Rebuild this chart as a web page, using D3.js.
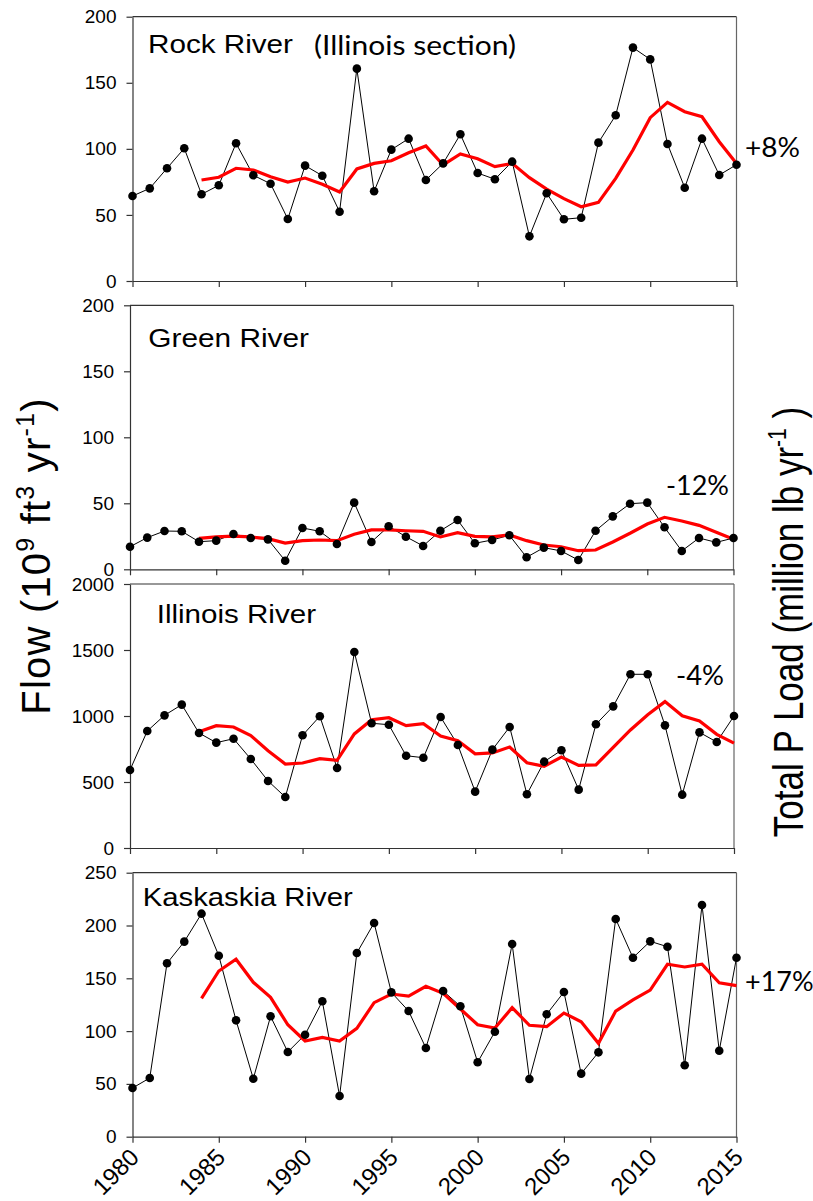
<html>
<head>
<script src="https://d3js.org/d3.v7.min.js"></script>
<style>
body { margin: 0; background: #fff; }
text { font-family: "Liberation Sans", Arial, sans-serif; fill: #000; }
.note { font-family: Lato, "Open Sans", sans-serif; }
</style>
</head>
<body>
<div id="plot"></div>
<script>

var width = 813;
var height = 1201;

// years on the x axis, and the labelled ticks
var years = [1980, 1981, 1982, 1983, 1984, 1985, 1986, 1987, 1988, 1989,
	1990, 1991, 1992, 1993, 1994, 1995, 1996, 1997, 1998, 1999,
	2000, 2001, 2002, 2003, 2004, 2005, 2006, 2007, 2008, 2009,
	2010, 2011, 2012, 2013, 2014, 2015];
var yearTicks = [1980, 1985, 1990, 1995, 2000, 2005, 2010, 2015];

// yearly flow (black dots) and 5-yr load line (red), per river
var rockFlow = [64.3, 70.1, 85.3, 100.4, 65.6, 72.4, 104.2, 80.0, 73.6, 46.9,
	87.3, 79.7, 52.4, 160.7, 67.9, 99.4, 107.7, 76.4, 89.0, 111.0,
	81.7, 77.0, 90.3, 33.8, 66.4, 46.7, 47.9, 104.7, 125.4, 176.6,
	167.7, 103.7, 70.6, 107.7, 80.2, 88.0];
var rockLoad = [null, null, null, null, 76.4, 78.5, 85.3, 84.0, 78.9, 74.9,
	77.9, 73.2, 67.3, 84.8, 89.0, 91.0, 97.1, 102.2, 87.8, 96.1,
	92.5, 86.5, 89.0, 78.2, 69.6, 62.3, 56.2, 59.5, 77.7, 99.1,
	123.6, 135.2, 128.1, 124.3, 105.4, 89.0];

var greenFlow = [17.1, 24.0, 29.0, 28.8, 20.9, 21.7, 26.7, 23.7, 22.7, 6.5,
	31.3, 28.8, 19.2, 50.5, 20.7, 32.6, 24.7, 17.7, 29.2, 37.3,
	19.7, 22.2, 25.8, 9.1, 16.4, 13.9, 7.0, 29.2, 40.1, 49.7,
	50.5, 31.8, 13.9, 23.7, 20.4, 23.7];
var greenLoad = [null, null, null, null, 23.5, 24.5, 25.2, 24.5, 23.2, 19.9,
	21.7, 22.2, 21.7, 26.5, 29.8, 29.8, 29.2, 28.8, 24.5, 27.7,
	25.0, 24.5, 26.0, 21.7, 18.4, 17.1, 14.1, 14.6, 20.7, 27.3,
	34.3, 39.4, 36.6, 33.3, 28.0, 22.7];

var illinoisFlow = [591, 886, 1005, 1086, 871, 798, 828, 674, 508, 386,
	854, 998, 606, 1485, 945, 934, 699, 684, 992, 780,
	427, 745, 917, 407, 654, 740, 442, 937, 1073, 1316,
	1316, 929, 404, 876, 803, 1000];
var illinoisLoad = [null, null, null, null, 881, 927, 917, 851, 737, 636,
	644, 677, 664, 864, 972, 987, 927, 942, 849, 813,
	714, 720, 765, 646, 619, 689, 626, 629, 763, 894,
	1010, 1109, 1002, 962, 861, 795];

var kaskaskiaFlow = [46.1, 55.6, 164.2, 184.7, 211.2, 171.4, 110.2, 54.9, 114.0, 80.2,
	96.6, 128.2, 38.5, 174.0, 202.4, 136.7, 119.0, 84.0, 138.0, 123.5,
	70.5, 99.4, 182.5, 54.6, 115.9, 137.0, 59.7, 79.9, 206.2, 169.5,
	185.0, 179.9, 67.6, 219.4, 81.4, 169.5];
var kaskaskiaLoad = [null, null, null, null, 131.0, 156.9, 168.0, 146.2, 132.0, 106.0,
	90.6, 94.1, 90.6, 102.6, 126.9, 135.1, 133.2, 142.4, 135.8, 120.9,
	106.0, 102.9, 122.2, 105.5, 104.2, 117.1, 108.9, 88.4, 119.0, 129.5,
	138.9, 163.3, 160.7, 163.3, 145.8, 143.0];

var riverNames = ["Rock River", "Green River", "Illinois River", "Kaskaskia River"];
var changeLabels = ["+8%", "-12%", "-4%", "+17%"];
var yMax = [200, 200, 2000, 250];
var yTicks = [
	[0, 50, 100, 150, 200],
	[0, 50, 100, 150, 200],
	[0, 500, 1000, 1500, 2000],
	[0, 50, 100, 150, 200, 250]
];

var flows = [rockFlow, greenFlow, illinoisFlow, kaskaskiaFlow];
var loads = [rockLoad, greenLoad, illinoisLoad, kaskaskiaLoad];

// where each panel sits on the page, and where its labels go
var layout = [
	{ top: 16.7, bottom: 281, left: 132.5, right: 736.5,
		name: [148, 53, 145], change: [745, 157, 55] },
	{ top: 305.3, bottom: 569.3, left: 130, right: 733.5,
		name: [148.3, 346.7, 160.7], change: [666, 494.5, 63] },
	{ top: 584, bottom: 848, left: 130, right: 734,
		name: [156.7, 622.7, 159.3], change: [676, 685, 48] },
	{ top: 872.7, bottom: 1136.7, left: 132.5, right: 736.5,
		name: [142.7, 905.7, 210], change: [745, 990.5, 0] }
];

var svg = d3.select("#plot").append("svg").attr("width", width).attr("height", height);

function drawPanel(i) {
	var box = layout[i];
	var g = svg.append("g");

	var xScale = d3.scaleLinear().domain([1980, 2015]).range([box.left, box.right]);
	var yScale = d3.scaleLinear().domain([0, yMax[i]]).range([box.bottom, box.top]);

	// frame: top and right
	g.append("line")
	.attr("x1", box.left).attr("x2", box.right)
	.attr("y1", box.top).attr("y2", box.top)
	.style("stroke", "#333").style("stroke-width", 1.2);
	g.append("line")
	.attr("x1", box.right).attr("x2", box.right)
	.attr("y1", box.top).attr("y2", box.bottom)
	.style("stroke", "#666").style("stroke-width", 1.2);

	var yAxis = d3.axisLeft(yScale).tickValues(yTicks[i]).tickSize(6).tickPadding(10)
	.tickSizeOuter(0).tickFormat(d3.format("d"));
	var ya = g.append("g").attr("transform", "translate(" + box.left + ",0)").call(yAxis);
	ya.selectAll("text").style("font-size", "19px").style("font-family", "Liberation Sans, Arial, sans-serif");

	var xAxis = d3.axisBottom(xScale).tickValues(yearTicks).tickSize(6).tickSizeOuter(0).tickFormat("");
	var xa = g.append("g").attr("transform", "translate(0," + box.bottom + ")").call(xAxis);

	[ya, xa].forEach(function (a) {
		a.selectAll("path").style("stroke", "#333").style("stroke-width", 1.2);
		a.selectAll("line").style("stroke", "#333").style("stroke-width", 1.2);
	});

	if (i === 3) {
		g.selectAll(".yearLabel").data(yearTicks)
		.enter().append("text")
		.attr("class", "yearLabel")
		.attr("text-anchor", "end")
		.attr("transform", function (d) {
			return "translate(" + (xScale(d) + 8) + "," + (box.bottom + 22) + ") rotate(-45)";
		})
		.style("font-size", "24px")
		.text(function (d) { return d; });
	}

	var pts = years.map(function (y, k) { return { year: y, flow: flows[i][k], load: loads[i][k] }; });

	var flowLine = d3.line()
	.x(function (d) { return xScale(d.year); })
	.y(function (d) { return yScale(d.flow); });

	g.append("path").datum(pts)
	.attr("d", flowLine)
	.style("fill", "none").style("stroke", "#000").style("stroke-width", 1);

	var loadLine = d3.line()
	.defined(function (d) { return d.load !== null; })
	.x(function (d) { return xScale(d.year); })
	.y(function (d) { return yScale(d.load); });

	g.append("path").datum(pts)
	.attr("d", loadLine)
	.style("fill", "none").style("stroke", "#ff0000").style("stroke-width", 3.2)
	.style("stroke-linejoin", "miter");

	g.selectAll(".point").data(pts)
	.enter().append("circle")
	.attr("class", "point")
	.attr("cx", function (d) { return xScale(d.year); })
	.attr("cy", function (d) { return yScale(d.flow); })
	.attr("r", 4.3)
	.style("fill", "#000");

	// river name and percent change
	g.append("text")
	.attr("x", box.name[0]).attr("y", box.name[1])
	.attr("textLength", box.name[2]).attr("lengthAdjust", "spacingAndGlyphs")
	.style("font-size", "25px")
	.text(riverNames[i]);

	var ch = g.append("text").attr("class", "note")
	.attr("x", box.change[0]).attr("y", box.change[1])
	.style("font-size", "27px")
	.text(changeLabels[i]);
	if (box.change[2] > 0) {
		ch.attr("textLength", box.change[2]).attr("lengthAdjust", "spacingAndGlyphs");
	}
}

for (var i = 0; i < 4; i++) { drawPanel(i); }

svg.append("text").attr("class", "note")
.attr("x", 314).attr("y", 55)
.attr("textLength", 202).attr("lengthAdjust", "spacingAndGlyphs")
.style("font-size", "27px")
.text("(Illinois section)");

// axis titles
var left = svg.append("text")
.attr("text-anchor", "middle")
.attr("transform", "translate(50,556) rotate(-90)")
.style("font-size", "40px")
.style("letter-spacing", "1.2px");
left.append("tspan").text("Flow (10");
left.append("tspan").attr("dy", -16).style("font-size", "25px").text("9");
left.append("tspan").attr("dy", 16).text(" ft");
left.append("tspan").attr("dy", -16).style("font-size", "25px").text("3");
left.append("tspan").attr("dy", 16).text(" yr");
left.append("tspan").attr("dy", -16).style("font-size", "25px").text("-1");
left.append("tspan").attr("dy", 16).text(")");

var right = svg.append("text")
.attr("text-anchor", "middle")
.attr("transform", "translate(803,622) scale(1.19,1) rotate(-90)")
.style("font-size", "35px");
right.append("tspan").text("Total P Load (million lb yr");
right.append("tspan").attr("dy", -14).style("font-size", "21px").text("-1");
right.append("tspan").attr("dy", 14).text(" )");

</script>
</body>
</html>
